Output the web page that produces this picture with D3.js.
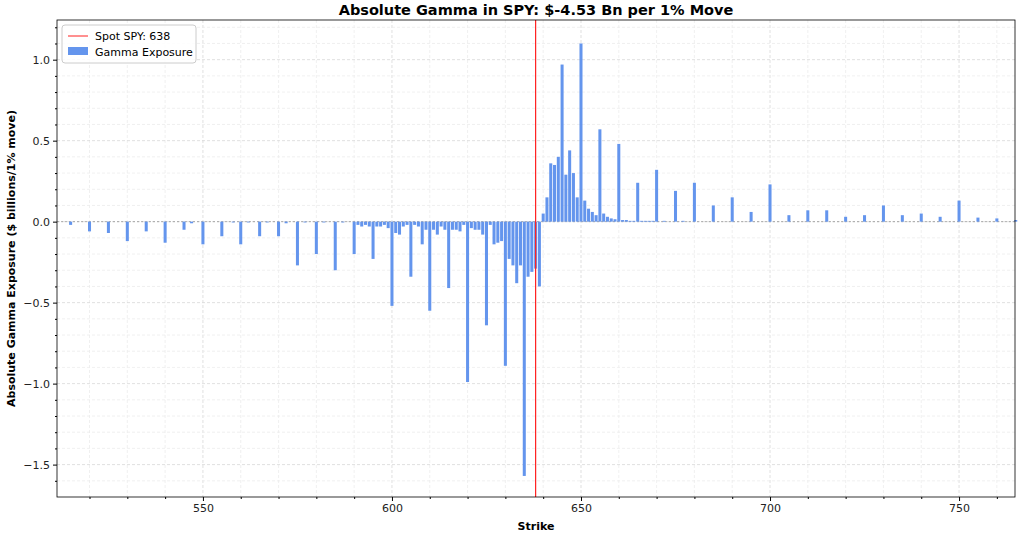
<!DOCTYPE html>
<html><head><meta charset="utf-8">
<script src="https://cdn.jsdelivr.net/npm/d3@7"></script>
<style>body{margin:0;background:#fff;font-family:"DejaVu Sans",sans-serif}</style>
</head><body><svg id="c" width="1024" height="537"></svg>
<script>
const strikes = [515,520,525,530,535,540,545,547,550,555,558,560,562,565,567,570,572,575,577,580,582,585,587,590,591,592,593,594,595,596,597,598,599,
600,601,602,603,604,605,606,607,608,609,610,611,612,613,614,615,616,617,618,619,620,621,622,623,624,625,626,627,628,629,630,631,632,633,634,635,636,637,638,639,
640,641,642,643,644,645,646,647,648,649,650,651,652,653,654,655,656,657,658,659,660,661,662,663,664,665,666,667,668,669,670,672,675,677,680,685,690,695,700,705,710,715,720,725,730,735,740,745,750,755,760,765];
const gamma = [-0.02,-0.06,-0.07,-0.12,-0.06,-0.13,-0.05,-0.01,-0.14,-0.09,-0.005,-0.14,-0.005,-0.09,-0.005,-0.09,-0.01,-0.27,-0.005,-0.20,-0.005,-0.30,-0.005,-0.20,-0.02,-0.03,-0.02,-0.03,-0.23,-0.03,-0.03,-0.02,-0.04,
-0.52,-0.07,-0.08,-0.03,-0.02,-0.34,-0.02,-0.03,-0.14,-0.05,-0.55,-0.05,-0.08,-0.03,-0.05,-0.41,-0.05,-0.05,-0.06,-0.02,-0.99,-0.04,-0.05,-0.05,-0.08,-0.64,-0.02,-0.14,-0.13,-0.12,-0.89,-0.23,-0.27,-0.38,-0.27,-1.57,-0.34,-0.31,-0.29,-0.40,
0.05,0.15,0.36,0.35,0.40,0.97,0.29,0.44,0.30,0.15,1.10,0.13,0.08,0.06,0.04,0.57,0.05,0.03,0.02,0.015,0.48,0.01,0.01,0.005,0.005,0.24,0.005,0.005,0.005,0.005,0.32,0.005,0.19,0.005,0.24,0.10,0.15,0.06,0.23,0.04,0.07,0.07,0.03,0.04,0.10,0.04,0.05,0.03,0.13,0.025,0.02,0.01];
const spot = 638;
const title = "Absolute Gamma in SPY: $-4.53 Bn per 1% Move";
const xTicks = [550,600,650,700,750];
const yTicks = [-1.5,-1.0,-0.5,0.0,0.5,1.0];

const svg = d3.select("#c");
const L=57,R=1015,T=20,B=497;
const x = d3.scaleLinear().domain([511.4,764.8]).range([L,R]);
const y = d3.scaleLinear().domain([-1.70,1.245]).range([B,T]);
const g = svg.append("g");
const gx=d3.range(520,770,10), gy=d3.range(-1.6,1.25,0.1);
g.selectAll(".gx").data(gx).join("line").attr("x1",d=>x(d)).attr("x2",d=>x(d)).attr("y1",T).attr("y2",B)
 .attr("stroke",d=>d%50===0?"#d8d8d8":"#ececec").attr("stroke-dasharray","3,2").attr("stroke-width",0.8);
g.selectAll(".gy").data(gy).join("line").attr("y1",d=>y(d)).attr("y2",d=>y(d)).attr("x1",L).attr("x2",R)
 .attr("stroke",d=>Math.abs(Math.round(d*10)%5)===0?"#d8d8d8":"#ececec").attr("stroke-dasharray","3,2").attr("stroke-width",0.8);
g.append("line").attr("x1",L).attr("x2",R).attr("y1",y(0)).attr("y2",y(0)).attr("stroke","#999").attr("stroke-dasharray","2,2").attr("stroke-width",0.8);
const bw = x(0.8)-x(0);
g.selectAll(".b").data(strikes).join("rect")
 .attr("x",d=>x(d)-bw/2).attr("width",bw)
 .attr("y",(d,i)=>y(Math.max(0,gamma[i]))).attr("height",(d,i)=>Math.abs(y(gamma[i])-y(0)))
 .attr("fill","#6495ed");
g.append("line").attr("x1",x(spot)).attr("x2",x(spot)).attr("y1",T).attr("y2",B).attr("stroke","#ff2020").attr("stroke-width",1.2);
svg.append("g").attr("transform",`translate(0,${B})`).call(d3.axisBottom(x).tickValues(xTicks).tickSize(4).tickSizeOuter(0));
svg.append("g").attr("transform",`translate(0,${B})`).call(d3.axisBottom(x).tickValues(gx.filter(d=>d%50)).tickSize(2).tickFormat(""));
svg.append("g").attr("transform",`translate(${L},0)`).call(d3.axisLeft(y).tickValues(yTicks).tickSize(4).tickFormat(d3.format(".1f")).tickSizeOuter(0));
svg.append("g").attr("transform",`translate(${L},0)`).call(d3.axisLeft(y).tickValues(gy.filter(d=>Math.abs(Math.round(d*10)%5)!==0)).tickSize(2).tickFormat(""));
svg.selectAll(".tick text").attr("font-size",11).attr("fill","#222").attr("font-family","DejaVu Sans");
svg.selectAll(".domain").remove();
svg.append("rect").attr("x",L).attr("y",T).attr("width",R-L).attr("height",B-T).attr("fill","none").attr("stroke","#000").attr("stroke-width",0.8);
svg.append("text").attr("x",(L+R)/2).attr("y",15).attr("text-anchor","middle").attr("font-weight","bold").attr("font-size",14.5).text(title);
svg.append("text").attr("x",(L+R)/2).attr("y",530).attr("text-anchor","middle").attr("font-weight","bold").attr("font-size",11).text("Strike");
svg.append("text").attr("transform",`translate(15,${(T+B)/2}) rotate(-90)`).attr("text-anchor","middle").attr("font-weight","bold").attr("font-size",11).text("Absolute Gamma Exposure ($ billions/1% move)");
const lg=svg.append("g").attr("transform","translate(62,25)");
lg.append("rect").attr("width",134).attr("height",38).attr("rx",3).attr("fill","#fff").attr("fill-opacity",0.85).attr("stroke","#ccc");
lg.append("line").attr("x1",6).attr("x2",26).attr("y1",11).attr("y2",11).attr("stroke","#ff2020");
lg.append("text").attr("x",33).attr("y",15).attr("font-size",11).text("Spot SPY: "+spot);
lg.append("rect").attr("x",6).attr("y",22).attr("width",20).attr("height",8).attr("fill","#6495ed");
lg.append("text").attr("x",33).attr("y",31).attr("font-size",11).text("Gamma Exposure");
</script></body></html>
